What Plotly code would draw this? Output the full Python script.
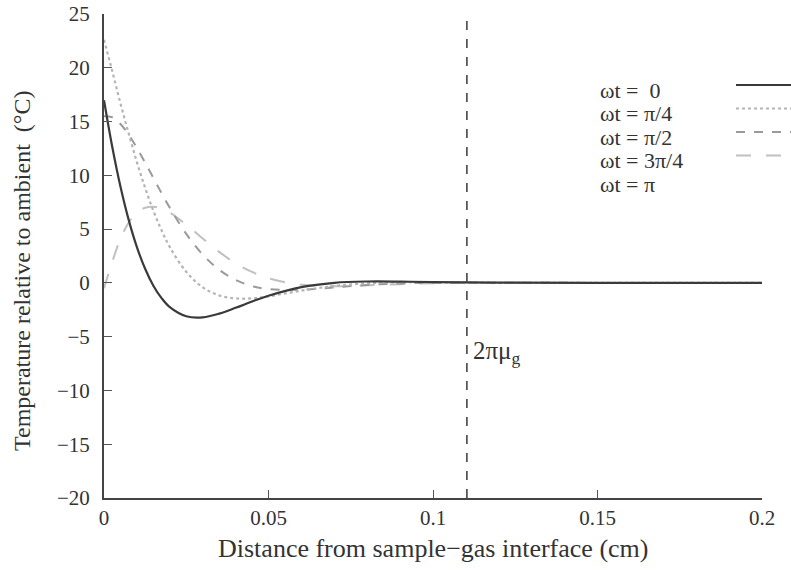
import plotly.graph_objects as go

# ---------------- data ----------------
x_cm = [0, 0.0025, 0.005, 0.0075, 0.01, 0.0125, 0.015, 0.0175, 0.02, 0.025,
        0.03, 0.035, 0.04, 0.045, 0.05, 0.06, 0.07, 0.08, 0.09, 0.10, 0.12,
        0.15, 0.2]
t_wt0 = [16.99, 12.66, 8.96, 5.86, 3.33, 1.31, -0.26, -1.42, -2.25, -3.10,
         -3.20, -2.86, -2.32, -1.73, -1.19, -0.39, 0.01, 0.13, 0.12, 0.07,
         0.02, 0, 0]
t_wt_pi4 = [22.6, 19.7, 16.7, 13.89, 11.23, 8.83, 6.71, 4.89, 3.33, 1.03,
            -0.41, -1.17, -1.45, -1.44, -1.25, -0.72, -0.29, -0.04, 0.05,
            0.06, 0.01, 0, 0]
t_wt_pi2 = [15.50, 15.40, 14.77, 13.78, 12.55, 11.18, 9.76, 8.34, 6.98,
            4.56, 2.63, 1.22, 0.27, -0.30, -0.58, -0.64, -0.42, -0.20,
            -0.05, 0.01, 0.01, 0, 0]
t_wt_3pi4 = [-0.5, 1.95, 4.11, 5.60, 6.52, 6.99, 7.08, 6.91, 6.53, 5.41,
             4.12, 2.88, 1.83, 1.02, 0.43, -0.18, -0.31, -0.23, -0.12,
             -0.04, 0.0, 0, 0]

series_labels = ["ωt =  0", "ωt = π/4", "ωt = π/2", "ωt = 3π/4", "ωt = π"]
x_ticks = [0, 0.05, 0.1, 0.15, 0.2]
y_ticks = [-20, -15, -10, -5, 0, 5, 10, 15, 20, 25]
wavelength_x = [0.1103, 0.1103]   # 2*pi*mu_g marker
wavelength_y = [-20, 25]
wavelength_label = "2πμ<sub>g</sub>"
x_title = "Distance from sample−gas interface (cm)"
y_title = "Temperature relative to ambient  (°C)"

# ---------------- styles ----------------
FONT = "Liberation Serif"
TXT = "#333333"
styles = [
    dict(color="#3a3a3a", dash="solid", width=2.2),
    dict(color="#b4b4b4", dash="dot", width=2.2),
    dict(color="#9a9a9a", dash="dash", width=2.0),
    dict(color="#c0c0c0", dash="longdash", width=2.0),
    dict(color="#ffffff", dash="solid", width=0),
]
series = [t_wt0, t_wt_pi4, t_wt_pi2, t_wt_3pi4]

W, H = 791, 571
PX0, PX1, PY0, PY1 = 104, 762, 14, 498      # plot area in window pixels
L, R = PX0, W - PX1
T, B = PY0, H - PY1
PW, PH = PX1 - PX0, PY1 - PY0


def px(wx):
    return (wx - PX0) / PW


def py(wy):
    return 1 - (wy - PY0) / PH


fig = go.Figure()
for i in [3, 2, 1, 0]:
    fig.add_trace(go.Scatter(
        x=x_cm, y=series[i], mode="lines", name=series_labels[i],
        line=dict(color=styles[i]["color"], dash=styles[i]["dash"],
                  width=styles[i]["width"], shape="spline", smoothing=1.0),
        showlegend=False, hoverinfo="skip"))

fig.add_trace(go.Scatter(
    x=wavelength_x, y=wavelength_y, mode="lines",
    line=dict(color="#444444", dash="dash", width=1.6),
    showlegend=False, hoverinfo="skip"))

# custom legend: text on the left, line sample on the right
row_px = [90, 113.5, 137, 160.5, 184]
for i, lab in enumerate(series_labels):
    fig.add_annotation(x=px(598), y=py(row_px[i]), xref="paper", yref="paper",
                       text=lab, showarrow=False,
                       xanchor="left", yanchor="middle",
                       font=dict(family=FONT, size=22, color=TXT))
    if styles[i]["width"] > 0:
        ys = py(row_px[i] - 5)
        fig.add_shape(type="line", xref="paper", yref="paper",
                      x0=px(736), x1=px(800), y0=ys, y1=ys,
                      line=dict(color=styles[i]["color"], dash=styles[i]["dash"],
                                width=styles[i]["width"]))

fig.add_annotation(x=wavelength_x[0], y=-6.5, xref="x", yref="y",
                   text=wavelength_label, showarrow=False,
                   xanchor="left", xshift=4, yanchor="middle",
                   font=dict(family=FONT, size=25, color=TXT))

# axis titles
fig.add_annotation(x=px(433), y=py(548), xref="paper", yref="paper",
                   text=x_title, showarrow=False, xanchor="center",
                   yanchor="middle", font=dict(family=FONT, size=26, color=TXT))
fig.add_annotation(x=px(22), y=py(271), xref="paper", yref="paper",
                   text=y_title, showarrow=False, textangle=-90,
                   xanchor="center", yanchor="middle",
                   font=dict(family=FONT, size=24, color=TXT))

fig.update_layout(
    width=W, height=H,
    margin=dict(l=L, r=R, t=T, b=B, autoexpand=False),
    paper_bgcolor="white", plot_bgcolor="white",
    font=dict(family=FONT, size=21, color=TXT),
    showlegend=False,
)
fig.update_xaxes(
    range=[0, 0.2], tickvals=x_ticks, ticktext=[str(v) for v in x_ticks],
    automargin=False, ticklabeloverflow="allow",
    showgrid=False, zeroline=False, showline=True, linecolor="#444444",
    linewidth=1.6, ticks="inside", ticklen=8, tickcolor="#555555",
    tickwidth=1.3, tickfont=dict(family=FONT, size=21, color=TXT),
)
fig.update_yaxes(
    range=[-20, 25], tickvals=y_ticks, automargin=False,
    ticklabeloverflow="allow",
    showgrid=False, zeroline=False, showline=True, linecolor="#444444",
    linewidth=2, ticks="inside", ticklen=8, tickcolor="#555555",
    tickwidth=1.3, tickfont=dict(family=FONT, size=21, color=TXT),
    ticklabelstandoff=8,
)

fig.write_html(
    "out.html",
    config={"displayModeBar": False},
    post_script="document.body.style.margin='0px';"
                "document.body.style.overflow='hidden';",
)
